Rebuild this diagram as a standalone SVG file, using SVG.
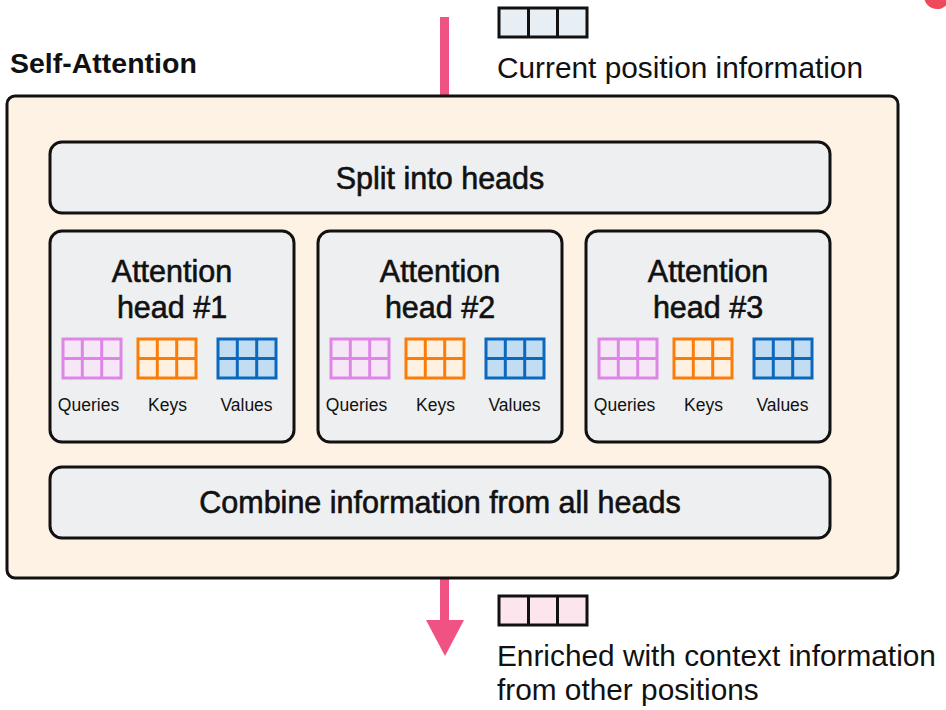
<svg xmlns="http://www.w3.org/2000/svg" width="946" height="710" viewBox="0 0 946 710">
<defs>
<style>
.t{font-family:"Liberation Sans",Arial,sans-serif;fill:#111}
.m{stroke:#111;stroke-width:0.6;text-anchor:middle;font-size:30.5px}
.box{fill:#eeeff1;stroke:#111;stroke-width:3}
.lab{font-size:17.5px;text-anchor:middle}
.big{font-size:29.8px}
.q{fill:#f6e7f6;stroke:#de86e6;stroke-width:3}
.k{fill:#fef1e2;stroke:#fc7c0a;stroke-width:3}
.v{fill:#c2ddf2;stroke:#0b68bd;stroke-width:3}
</style>
<g id="g">
<rect x="0" y="0" width="58" height="39"/>
<line x1="19.3" y1="0" x2="19.3" y2="39"/>
<line x1="38.7" y1="0" x2="38.7" y2="39"/>
<line x1="0" y1="19.5" x2="58" y2="19.5"/>
</g>
<g id="mats">
<use href="#g" class="q"/>
<use href="#g" class="k" x="75"/>
<use href="#g" class="v" x="155"/>
<text class="t lab" x="25.5" y="72">Queries</text>
<text class="t lab" x="104.5" y="72">Keys</text>
<text class="t lab" x="183.5" y="72">Values</text>
</g>
</defs>
<rect width="946" height="710" fill="#fff"/>
<circle cx="937" cy="-4" r="13" fill="#ef4a5b"/>
<text class="t" x="10" y="73" font-size="28.5" font-weight="bold">Self-Attention</text>
<g id="connectors">
<rect x="440" y="17" width="9" height="80" fill="#ef5283"/>
<rect x="440" y="578" width="9" height="43" fill="#ef5283"/>
<polygon points="426,620 464,620 445,656" fill="#ef5283"/>
</g>
<g id="input">
<rect x="499" y="8" width="88" height="29" fill="#e7eff5" stroke="#111" stroke-width="3"/>
<line x1="528.5" y1="8" x2="528.5" y2="37" stroke="#111" stroke-width="3"/>
<line x1="557.5" y1="8" x2="557.5" y2="37" stroke="#111" stroke-width="3"/>
<text class="t big" x="497" y="78">Current position information</text>
</g>
<g id="self-attention">
<rect x="7" y="96" width="891" height="482" rx="8" fill="#fef2e4" stroke="#111" stroke-width="3"/>
</g>
<g id="split">
<rect class="box" x="50" y="142" width="780" height="71" rx="12"/>
<text class="t m" x="440" y="189">Split into heads</text>
</g>
<g id="head1">
<rect class="box" x="50" y="231" width="244" height="211" rx="12"/>
<text class="t m" x="172" y="282">Attention</text>
<text class="t m" x="172" y="318">head #1</text>
<use href="#mats" x="63" y="339"/>
</g>
<g id="head2">
<rect class="box" x="318" y="231" width="244" height="211" rx="12"/>
<text class="t m" x="440" y="282">Attention</text>
<text class="t m" x="440" y="318">head #2</text>
<use href="#mats" x="331" y="339"/>
</g>
<g id="head3">
<rect class="box" x="586" y="231" width="244" height="211" rx="12"/>
<text class="t m" x="708" y="282">Attention</text>
<text class="t m" x="708" y="318">head #3</text>
<use href="#mats" x="599" y="339"/>
</g>
<g id="combine">
<rect class="box" x="50" y="467" width="780" height="71" rx="12"/>
<text class="t m" x="440" y="513">Combine information from all heads</text>
</g>
<g id="output">
<rect x="499" y="596" width="88" height="29" fill="#fde5ee" stroke="#111" stroke-width="3"/>
<line x1="528.5" y1="596" x2="528.5" y2="625" stroke="#111" stroke-width="3"/>
<line x1="557.5" y1="596" x2="557.5" y2="625" stroke="#111" stroke-width="3"/>
<text class="t big" x="497" y="666">Enriched with context information</text>
<text class="t big" x="497" y="700">from other positions</text>
</g>
</svg>
